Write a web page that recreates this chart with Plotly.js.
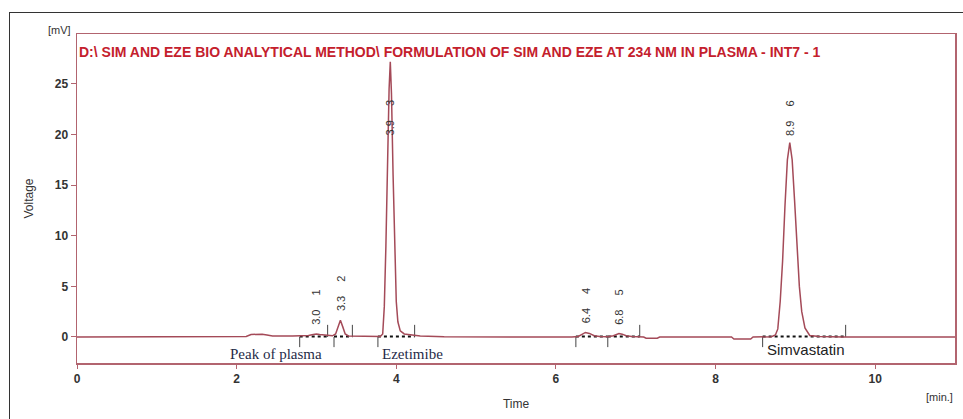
<!DOCTYPE html>
<html>
<head>
<meta charset="utf-8">
<script src="https://cdn.plot.ly/plotly-3.0.1.min.js"></script>
<style>
  html, body { margin: 0; padding: 0; background: #fff; }
  #chart { width: 963px; height: 419px; }
  #frame { position: absolute; left: 9px; top: 12px; width: 980px; height: 500px;
           border-left: 1.5px solid #333; border-top: 1.5px solid #333; pointer-events: none; }
</style>
</head>
<body>
<div id="chart"></div>
<div id="frame"></div>
<script>
// Chromatogram signal (time in min, voltage in mV)
const time = [0, 0.5, 1.0, 1.5, 2.0, 2.12, 2.18, 2.25, 2.32, 2.38, 2.45, 2.7, 2.9, 2.96, 3.0, 3.04, 3.1, 3.2,
  3.24, 3.27, 3.3, 3.33, 3.36, 3.4, 3.6, 3.8, 3.83, 3.85, 3.87, 3.89, 3.91, 3.925, 3.94, 3.96, 3.98, 4.0,
  4.02, 4.05, 4.1, 4.2, 4.3, 4.6, 5.2, 5.8, 6.2, 6.28, 6.33, 6.37, 6.42, 6.48, 6.55, 6.65, 6.72, 6.76,
  6.79, 6.83, 6.88, 6.95, 7.05, 7.1, 7.13, 7.27, 7.3, 7.6, 8.0, 8.2, 8.23, 8.44, 8.47, 8.6, 8.7, 8.75,
  8.78, 8.81, 8.84, 8.87, 8.9, 8.93, 8.96, 8.99, 9.02, 9.05, 9.08, 9.12, 9.18, 9.3, 9.6, 10.0, 10.5, 11.0];
const mv = [0, 0, 0, 0, 0, 0.05, 0.25, 0.3, 0.28, 0.2, 0.1, 0.1, 0.15, 0.25, 0.3, 0.25, 0.18, 0.12,
  0.3, 1.0, 1.65, 1.0, 0.3, 0.1, 0.05, 0.05, 0.3, 3.0, 9.0, 18.0, 24.5, 27.2, 24.0, 16.0, 8.0, 3.5,
  1.5, 0.6, 0.3, 0.2, 0.1, 0.02, 0, 0, 0, 0.05, 0.3, 0.45, 0.35, 0.12, 0.05, 0.03, 0.12, 0.3,
  0.35, 0.28, 0.12, 0.05, 0.02, 0, -0.12, -0.12, 0, 0, 0, 0, -0.2, -0.2, 0, 0, 0.02, 0.2,
  0.8, 3.5, 7.5, 13.0, 17.5, 19.2, 17.5, 13.5, 9.0, 5.0, 2.5, 0.9, 0.15, 0.05, 0, 0, 0, 0];

// Integrated peaks
const peakNum   = [1, 2, 3, 4, 5, 6];
const peakRT    = ["3.0", "3.3", "3.9", "6.4", "6.8", "8.9"];
const peakApex  = [3.0, 3.3, 3.925, 6.37, 6.79, 8.93];
const peakTop   = [0.3, 1.65, 27.2, 0.45, 0.35, 19.2];
const peakStart = [2.79, 3.22, 3.77, 6.25, 6.65, 8.59];
const peakEnd   = [3.14, 3.45, 4.23, 6.65, 7.05, 9.63];
const upMarks   = [3.14, 3.45, 4.23, 7.05, 9.63];
const downMarks = [2.79, 3.22, 3.77, 6.25, 6.65, 8.59];

// Compound names
const compounds = ["Peak of plasma", "Ezetimibe", "Simvastatin"];
const compoundT = [1.89, 3.8, 8.625];

const xTicks = [0, 2, 4, 6, 8, 10];
const yTicks = [0, 5, 10, 15, 20, 25];

const titleText = "D:\\ SIM AND EZE BIO ANALYTICAL METHOD\\ FORMULATION OF SIM AND EZE AT 234 NM IN PLASMA - INT7 - 1";

// build baseline (dotted) segments and boundary marks
const bx = [], by = [];
peakStart.forEach((s, i) => { bx.push(s, peakEnd[i], null); by.push(0.05, 0.05, null); });
const mx = [], my = [];
const UP = 1.2, DOWN = -1.0;
upMarks.forEach(t => { mx.push(t, t, null); my.push(0, UP, null); });
downMarks.forEach(t => { mx.push(t, t, null); my.push(0, DOWN, null); });

const lineColor = '#a44a58';
const frameColor = '#b2646f';

const traces = [
  { x: bx, y: by, mode: 'lines', line: { color: '#111', width: 2, dash: 'dot' }, hoverinfo: 'skip', connectgaps: false },
  { x: mx, y: my, mode: 'lines', line: { color: '#444', width: 1 }, hoverinfo: 'skip', connectgaps: false },
  { x: time, y: mv, mode: 'lines', line: { color: lineColor, width: 1.5 }, hoverinfo: 'skip' }
];

const ann = [];
peakNum.forEach((n, i) => {
  const base = Math.min(peakTop[i], 19.0) + 0.7;
  ann.push({ x: peakApex[i], y: base, xref: 'x', yref: 'y', text: peakRT[i] + '\u2003 ' + n,
    showarrow: false, textangle: -90, xanchor: 'center', yanchor: 'bottom',
    font: { family: 'Liberation Sans, Arial', size: 11, color: '#333' } });
});
compounds.forEach((c, i) => {
  const serif = i < 2;
  ann.push({ x: compoundT[i], y: serif ? -1.68 : -1.2, xref: 'x', yref: 'y', text: c, showarrow: false,
    xanchor: 'left', yanchor: 'middle',
    font: serif ? { family: 'Liberation Serif, Times New Roman', size: 15, color: '#1f2b48' }
                : { family: 'Liberation Sans, Arial', size: 15, color: '#222' } });
});
ann.push({ x: 0.0, y: 0.945, xref: 'paper', yref: 'paper', text: titleText, showarrow: false,
  xanchor: 'left', yanchor: 'middle',
  font: { family: 'Liberation Sans, Arial', size: 14, color: '#c4202c', weight: 'bold' } });
ann.push({ x: -0.0046, y: 1.012, xref: 'paper', yref: 'paper', text: '[mV]', showarrow: false,
  xanchor: 'right', yanchor: 'middle', font: { family: 'Liberation Sans, Arial', size: 11, color: '#333' } });
ann.push({ x: 1.0, y: -0.103, xref: 'paper', yref: 'paper', text: '[min.]', showarrow: false,
  xanchor: 'right', yanchor: 'middle', font: { family: 'Liberation Sans, Arial', size: 11, color: '#333' } });

const tickFont = { family: 'Liberation Sans, Arial', size: 12, color: '#333', weight: 'bold' };

const layout = {
  width: 963, height: 419,
  margin: { l: 77, r: 8, t: 34, b: 56 },
  paper_bgcolor: '#fff', plot_bgcolor: '#fff',
  showlegend: false,
  xaxis: {
    range: [0, 11], tickvals: xTicks, ticktext: xTicks.map(String),
    showgrid: false, zeroline: false, showline: true, mirror: true,
    linecolor: frameColor, linewidth: 1.5, ticks: 'outside', ticklen: 4, tickcolor: frameColor,
    tickfont: tickFont,
    title: { text: 'Time', font: { family: 'Liberation Sans, Arial', size: 12, color: '#333' }, standoff: 14 }
  },
  yaxis: {
    range: [-2.57, 29.94], tickvals: yTicks, ticktext: yTicks.map(String),
    showgrid: false, zeroline: false, showline: true, mirror: true,
    linecolor: frameColor, linewidth: 1.5, ticks: 'outside', ticklen: 5, tickcolor: frameColor,
    tickfont: tickFont,
    title: { text: 'Voltage', font: { family: 'Liberation Sans, Arial', size: 12, color: '#333' }, standoff: 18 }
  },
  annotations: ann
};

Plotly.newPlot('chart', traces, layout, { displayModeBar: false, staticPlot: true });
</script>
</body>
</html>
